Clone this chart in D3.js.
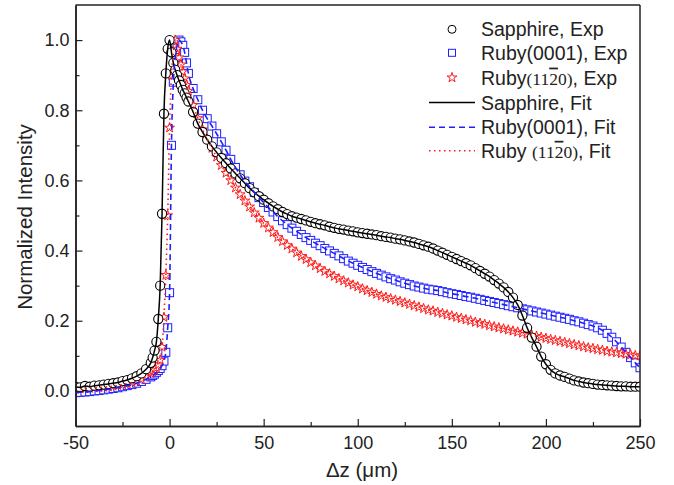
<!DOCTYPE html>
<html><head><meta charset="utf-8">
<script src="https://cdn.jsdelivr.net/npm/d3@7/dist/d3.min.js"></script>
<style>body{margin:0;background:#fff}svg{display:block}</style>
</head><body>
<svg id="c" width="674" height="485"></svg>
<script>
// ---- data ----
const zPos = [-50,-47.5,-45,-42.5,-40,-37.5,-35,-32.5,-30,-27.5,-25,-22.5,-20,-17.5,-15,-12.5,
 -10,-9,-8,-7,-6,-5,-4,-3,-2,-1,0,1,2,3,4,5,6,7,8,9,10,
 12.5,15,17.5,20,22.5,25,27.5,30,32.5,35,
 37.5,40,42.5,45,47.5,50,52.5,55,57.5,60,
 62.5,65,67.5,70,72.5,75,77.5,80,82.5,85,
 87.5,90,92.5,95,97.5,100,102.5,105,107.5,110,
 112.5,115,117.5,120,122.5,125,127.5,130,132.5,135,
 137.5,140,142.5,145,147.5,150,152.5,155,157.5,160,
 162.5,165,167.5,170,172.5,175,177.5,180,182.5,185,
 187.5,190,192.5,195,197.5,200,202.5,205,207.5,210,
 212.5,215,217.5,220,222.5,225,227.5,230,232.5,235,
 237.5,240,242.5,245,247.5,250];
const sapphire = [0.012,0.010,0.014,0.012,0.015,0.016,0.018,0.020,0.022,0.024,0.028,0.031,0.036,0.042,0.050,0.062,
 0.080,0.095,0.115,0.140,0.205,0.300,0.505,0.790,0.905,0.975,1.000,0.965,0.935,0.915,0.900,0.885,0.872,0.858,0.848,0.836,0.825,
 0.795,0.762,0.738,0.716,0.697,0.680,0.664,0.649,0.634,0.620,
 0.606,0.592,0.578,0.566,0.555,0.545,0.535,0.526,0.518,0.510,
 0.504,0.498,0.494,0.490,0.486,0.482,0.478,0.475,0.472,0.468,
 0.465,0.462,0.460,0.457,0.455,0.452,0.450,0.448,0.446,0.444,
 0.441,0.439,0.437,0.434,0.432,0.429,0.426,0.423,0.419,0.415,
 0.411,0.406,0.400,0.394,0.388,0.382,0.376,0.370,0.364,0.358,
 0.350,0.342,0.334,0.326,0.316,0.306,0.295,0.282,0.266,0.245,
 0.215,0.180,0.152,0.126,0.098,0.076,0.060,0.050,0.044,0.040,
 0.035,0.030,0.027,0.024,0.022,0.020,0.018,0.017,0.016,0.015,
 0.014,0.013,0.013,0.012,0.012,0.012];
const ruby0001 = [-0.005,-0.004,-0.003,-0.002,0.000,0.001,0.003,0.005,0.007,0.009,0.012,0.015,0.018,0.022,0.027,0.033,
 0.040,0.044,0.048,0.053,0.058,0.064,0.072,0.085,0.110,0.180,0.280,0.700,0.880,0.950,0.985,1.000,0.995,0.985,0.965,0.935,0.905,
 0.862,0.830,0.800,0.776,0.755,0.733,0.710,0.686,0.660,0.637,
 0.616,0.598,0.582,0.566,0.551,0.537,0.523,0.510,0.497,0.485,
 0.474,0.464,0.455,0.446,0.437,0.429,0.421,0.414,0.406,0.399,
 0.392,0.385,0.377,0.370,0.364,0.358,0.352,0.346,0.340,0.335,
 0.330,0.325,0.320,0.316,0.311,0.307,0.303,0.299,0.296,0.293,
 0.290,0.288,0.286,0.283,0.280,0.277,0.275,0.272,0.269,0.267,
 0.264,0.261,0.258,0.255,0.252,0.249,0.246,0.243,0.240,0.237,
 0.234,0.231,0.228,0.225,0.222,0.219,0.216,0.213,0.210,0.207,
 0.204,0.200,0.197,0.193,0.189,0.185,0.180,0.173,0.164,0.153,
 0.140,0.125,0.110,0.095,0.080,0.066];
const ruby1120 = [0.005,0.006,0.007,0.008,0.009,0.010,0.011,0.012,0.014,0.016,0.018,0.021,0.024,0.028,0.033,0.040,
 0.050,0.055,0.060,0.066,0.075,0.088,0.125,0.210,0.330,0.500,0.750,0.900,0.965,1.000,0.975,0.950,0.930,0.910,0.890,0.872,0.855,
 0.815,0.777,0.745,0.718,0.692,0.667,0.643,0.621,0.600,0.579,
 0.560,0.542,0.525,0.508,0.493,0.478,0.465,0.452,0.438,0.426,
 0.415,0.405,0.394,0.384,0.375,0.366,0.357,0.349,0.341,0.334,
 0.327,0.320,0.314,0.308,0.302,0.297,0.291,0.286,0.281,0.276,
 0.271,0.267,0.263,0.259,0.255,0.251,0.247,0.243,0.239,0.235,
 0.231,0.228,0.224,0.221,0.217,0.214,0.210,0.207,0.203,0.200,
 0.196,0.193,0.190,0.186,0.183,0.180,0.177,0.174,0.171,0.168,
 0.165,0.162,0.159,0.156,0.153,0.150,0.147,0.144,0.141,0.138,
 0.135,0.132,0.129,0.126,0.123,0.121,0.118,0.116,0.113,0.111,
 0.109,0.107,0.105,0.103,0.101,0.100];
const xTicks = [-50,0,50,100,150,200,250];
const xMinor = [-25,25,75,125,175,225];
const yTicks = [0.0,0.2,0.4,0.6,0.8,1.0];
const yMinor = [0.1,0.3,0.5,0.7,0.9];

// ---- chart ----
const svg = d3.select('#c');
const L=75.5, R=640, T=5, B=426;
const x = d3.scaleLinear().domain([-50,250]).range([L,R]);
const y = d3.scaleLinear().domain([-0.1,1.1]).range([B,T]);
const font = "'Liberation Sans', Arial, sans-serif";
const blue = '#1f1fff', red = '#ff1a1a';

svg.append('defs').append('clipPath').attr('id','clip')
  .append('rect').attr('x',L).attr('y',T).attr('width',R-L).attr('height',B-T);

const pts = (vals) => zPos.map((z,i)=>({z, v: vals[i]}));
const plot = svg.append('g').attr('clip-path','url(#clip)');

// Ruby(0001) squares
plot.append('g').selectAll('rect').data(pts(ruby0001)).join('rect')
  .attr('x',d=>x(d.z)-4).attr('y',d=>y(d.v)-4).attr('width',8).attr('height',8)
  .attr('fill','#fff').attr('stroke',blue).attr('stroke-width',1);
// Ruby(11-20) stars
const star = d3.symbol().type(d3.symbolStar).size(30);
plot.append('g').selectAll('path').data(pts(ruby1120)).join('path')
  .attr('d',star).attr('transform',d=>`translate(${x(d.z)},${y(d.v)})`)
  .attr('fill','#fff').attr('stroke',red).attr('stroke-width',1);
// Sapphire circles
plot.append('g').selectAll('circle').data(pts(sapphire)).join('circle')
  .attr('cx',d=>x(d.z)).attr('cy',d=>y(d.v)).attr('r',4.6)
  .attr('fill','#fff').attr('stroke','#000').attr('stroke-width',1.1);

const line = d3.line().x(d=>x(d.z)).y(d=>y(d.v)).curve(d3.curveMonotoneX);
plot.append('path').datum(pts(sapphire)).attr('d',line).attr('fill','none')
  .attr('stroke','#000').attr('stroke-width',1.5);
plot.append('path').datum(pts(ruby0001)).attr('d',line).attr('fill','none')
  .attr('stroke',blue).attr('stroke-width',1.6).attr('stroke-dasharray','6,4');
plot.append('path').datum(pts(ruby1120)).attr('d',line).attr('fill','none')
  .attr('stroke',red).attr('stroke-width',1.6).attr('stroke-dasharray','1.5,3.5');

// axes
const gx = svg.append('g').attr('transform',`translate(0,${B})`)
  .call(d3.axisBottom(x).tickValues(xTicks).tickFormat(d=>String(d)).tickSizeInner(-7).tickSizeOuter(0).tickPadding(10));
const gxm = svg.append('g').attr('transform',`translate(0,${B})`)
  .call(d3.axisBottom(x).tickValues(xMinor).tickFormat('').tickSizeInner(-4).tickSizeOuter(0));
const gy = svg.append('g').attr('transform',`translate(${L},0)`)
  .call(d3.axisLeft(y).tickValues(yTicks).tickFormat(d3.format('.1f')).tickSizeInner(-7).tickSizeOuter(0).tickPadding(6));
const gym = svg.append('g').attr('transform',`translate(${L},0)`)
  .call(d3.axisLeft(y).tickValues(yMinor).tickFormat('').tickSizeInner(-4).tickSizeOuter(0));
[gx,gxm,gy,gym].forEach(g=>{
  g.selectAll('.domain').attr('stroke','#222').attr('stroke-width',1.5);
  g.selectAll('line').attr('stroke','#222').attr('stroke-width',1.2);
  g.selectAll('text').attr('font-family',font).attr('font-size',18).attr('fill','#222');
});
svg.append('line').attr('x1',L).attr('x2',R).attr('y1',T).attr('y2',T).attr('stroke','#222').attr('stroke-width',1.5);
svg.append('line').attr('x1',R).attr('x2',R).attr('y1',T).attr('y2',B).attr('stroke','#222').attr('stroke-width',1.5);

// titles
svg.append('text').attr('x',362).attr('y',477).attr('text-anchor','middle')
  .attr('font-family',font).attr('font-size',20.5).attr('fill','#222').text('Δz (μm)');
svg.append('text').attr('transform','translate(32,217) rotate(-90)').attr('text-anchor','middle')
  .attr('font-family',font).attr('font-size',20.5).attr('fill','#222').text('Normalized Intensity');

// legend
const lg = svg.append('g').attr('font-family',font).attr('font-size',19.5).attr('fill','#222');
const rows = [29.3, 52.8, 77.6, 102.5, 127.2, 150.8];
lg.append('circle').attr('cx',452).attr('cy',rows[0]).attr('r',4).attr('fill','#fff').attr('stroke','#000');
lg.append('rect').attr('x',448.5).attr('y',rows[1]-3.5).attr('width',7).attr('height',7).attr('fill','#fff').attr('stroke',blue);
lg.append('path').attr('d',star).attr('transform',`translate(452,${rows[2]})`).attr('fill','#fff').attr('stroke',red);
lg.append('line').attr('x1',429).attr('x2',475).attr('y1',rows[3]).attr('y2',rows[3]).attr('stroke','#000').attr('stroke-width',1.5);
lg.append('line').attr('x1',429).attr('x2',475).attr('y1',rows[4]).attr('y2',rows[4]).attr('stroke',blue).attr('stroke-width',1.6).attr('stroke-dasharray','6,4');
lg.append('line').attr('x1',429).attr('x2',475).attr('y1',rows[5]).attr('y2',rows[5]).attr('stroke',red).attr('stroke-width',1.6).attr('stroke-dasharray','1.5,3.5');

function addLabel(yy, parts){
  const t = lg.append('text').attr('x',481).attr('y',yy+7);
  parts.forEach(p=>{
    const s = t.append('tspan').text(p.t);
    if(p.serif) s.attr('font-family',"'Liberation Serif','Times New Roman',serif").attr('font-size',17.5);
    if(p.over) s.style('text-decoration','overline');
  });
}
addLabel(rows[0],[{t:'Sapphire, Exp'}]);
addLabel(rows[1],[{t:'Ruby(0001), Exp'}]);
addLabel(rows[2],[{t:'Ruby'},{t:'(11',serif:1},{t:'2',serif:1,over:1},{t:'0)',serif:1},{t:', Exp'}]);
addLabel(rows[3],[{t:'Sapphire, Fit'}]);
addLabel(rows[4],[{t:'Ruby(0001), Fit'}]);
addLabel(rows[5],[{t:'Ruby '},{t:'(11',serif:1},{t:'2',serif:1,over:1},{t:'0)',serif:1},{t:', Fit'}]);
</script>
</body></html>
